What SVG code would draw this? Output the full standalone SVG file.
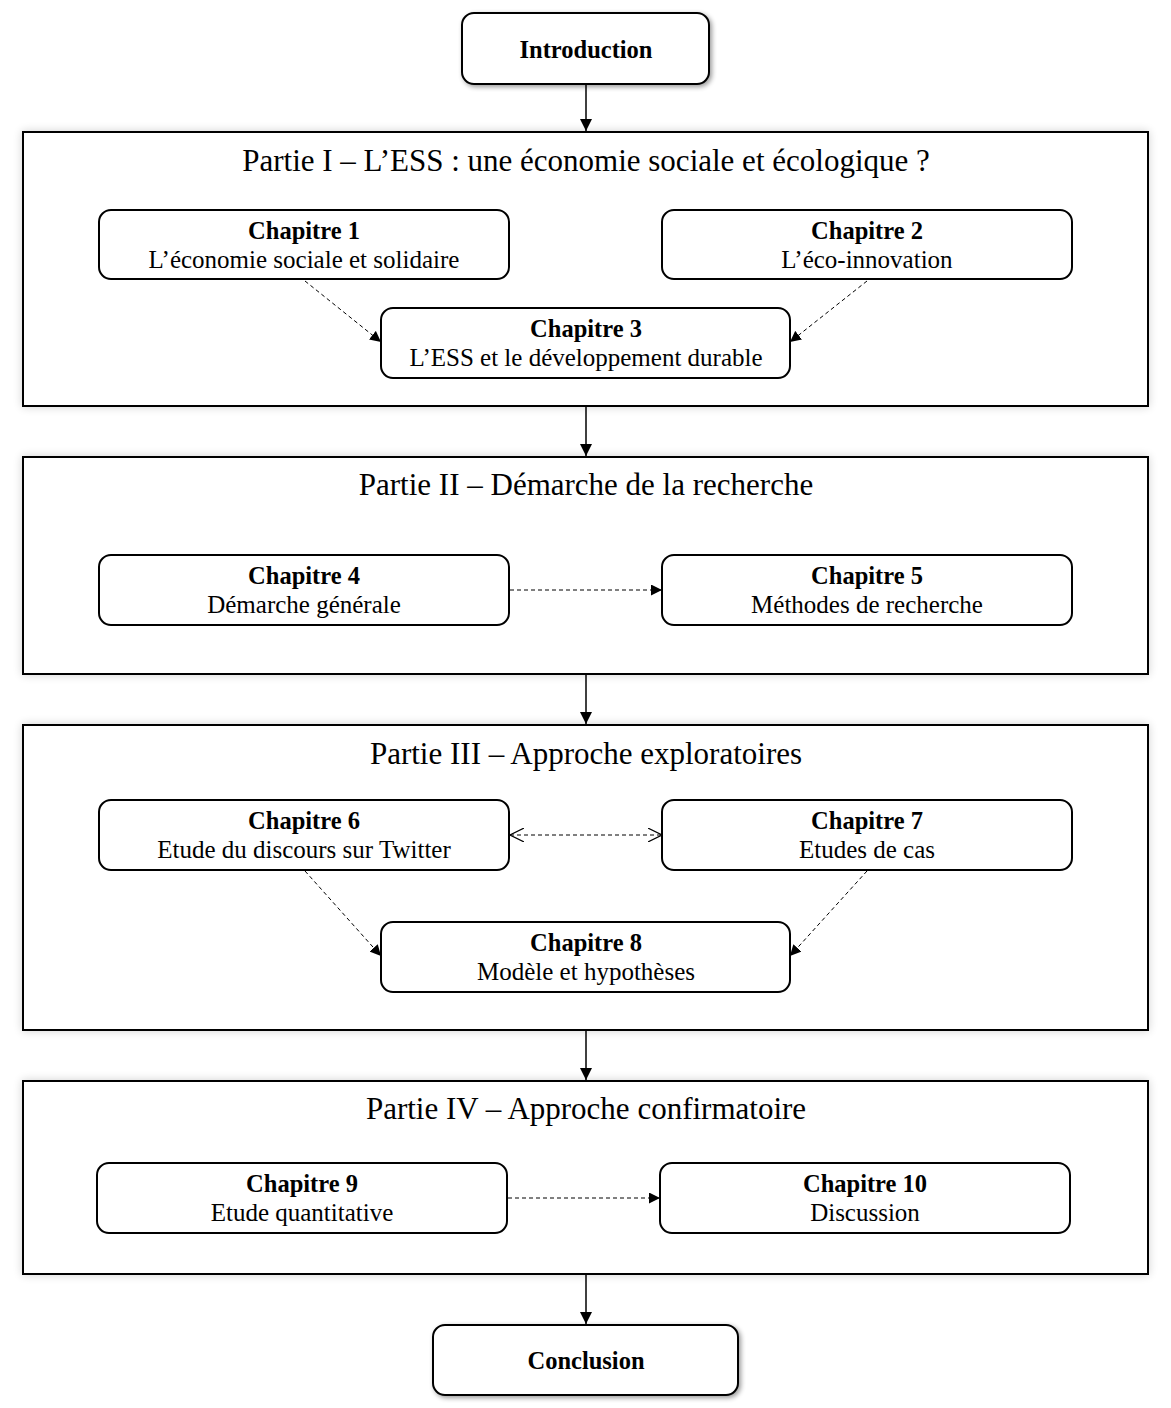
<svg xmlns="http://www.w3.org/2000/svg" width="1171" height="1408" viewBox="0 0 1171 1408">
<defs>
<filter id="glow" x="-5%" y="-10%" width="110%" height="120%">
<feGaussianBlur in="SourceAlpha" stdDeviation="5"/>
<feComponentTransfer><feFuncA type="linear" slope="0.18"/></feComponentTransfer>
<feMerge><feMergeNode/><feMergeNode in="SourceGraphic"/></feMerge>
</filter>
<filter id="sh" x="-10%" y="-20%" width="120%" height="140%">
<feGaussianBlur in="SourceAlpha" stdDeviation="2.5"/>
<feOffset dx="2" dy="2"/>
<feComponentTransfer><feFuncA type="linear" slope="0.4"/></feComponentTransfer>
<feMerge><feMergeNode/><feMergeNode in="SourceGraphic"/></feMerge>
</filter>
<marker id="ah" viewBox="0 0 10 10" refX="10" refY="5" markerWidth="12" markerHeight="12" markerUnits="userSpaceOnUse" orient="auto">
<path d="M0,0 L10,5 L0,10 z" fill="#000"/>
</marker>
<marker id="ahs" viewBox="0 0 10 10" refX="10" refY="5" markerWidth="11" markerHeight="11" markerUnits="userSpaceOnUse" orient="auto">
<path d="M0,0 L10,5 L0,10 z" fill="#000"/>
</marker>
<marker id="open" viewBox="0 0 10 10" refX="10" refY="5" markerWidth="14" markerHeight="14" markerUnits="userSpaceOnUse" orient="auto-start-reverse">
<path d="M0,0 L10,5 L0,10" fill="none" stroke="#000" stroke-width="0.8"/>
</marker>
</defs>
<style>
text{font-family:"Liberation Serif","Times New Roman",serif;fill:#000;text-anchor:middle}
.part{fill:#fff;stroke:#000;stroke-width:2}
.ch{fill:#fff;stroke:#000;stroke-width:2}
.end{fill:#fff;stroke:#000;stroke-width:2}
.t{font-size:31px}
.b{font-size:24.5px;font-weight:bold}
.n{font-size:25px}
.solid{stroke:#000;stroke-width:1.5;fill:none}
.dash{stroke:#000;stroke-width:1;stroke-dasharray:4 3;fill:none}
</style>
<rect width="1171" height="1408" fill="#fff"/>
<g id="part1"><rect class="part" x="23" y="132" width="1125" height="274" filter="url(#glow)"/><text class="t" x="586" y="171">Partie I – L’ESS : une économie sociale et écologique ?</text></g>
<g id="part2"><rect class="part" x="23" y="457" width="1125" height="217" filter="url(#glow)"/><text class="t" x="586" y="495">Partie II – Démarche de la recherche</text></g>
<g id="part3"><rect class="part" x="23" y="725" width="1125" height="305" filter="url(#glow)"/><text class="t" x="586" y="764">Partie III – Approche exploratoires</text></g>
<g id="part4"><rect class="part" x="23" y="1081" width="1125" height="193" filter="url(#glow)"/><text class="t" x="586" y="1119">Partie IV – Approche confirmatoire</text></g>
<g id="intro"><rect class="end" x="462" y="13" width="247" height="71" rx="12" filter="url(#sh)"/><text class="b" x="586" y="58">Introduction</text></g>
<g id="ch1"><rect class="ch" x="99" y="210" width="410" height="69" rx="12"/><text class="b" x="304" y="239">Chapitre 1</text><text class="n" x="304" y="268">L’économie sociale et solidaire</text></g>
<g id="ch2"><rect class="ch" x="662" y="210" width="410" height="69" rx="12"/><text class="b" x="867" y="239">Chapitre 2</text><text class="n" x="867" y="268">L’éco-innovation</text></g>
<g id="ch3"><rect class="ch" x="381" y="308" width="409" height="70" rx="12"/><text class="b" x="586" y="337">Chapitre 3</text><text class="n" x="586" y="366">L’ESS et le développement durable</text></g>
<g id="ch4"><rect class="ch" x="99" y="555" width="410" height="70" rx="12"/><text class="b" x="304" y="584">Chapitre 4</text><text class="n" x="304" y="613">Démarche générale</text></g>
<g id="ch5"><rect class="ch" x="662" y="555" width="410" height="70" rx="12"/><text class="b" x="867" y="584">Chapitre 5</text><text class="n" x="867" y="613">Méthodes de recherche</text></g>
<g id="ch6"><rect class="ch" x="99" y="800" width="410" height="70" rx="12"/><text class="b" x="304" y="829">Chapitre 6</text><text class="n" x="304" y="858">Etude du discours sur Twitter</text></g>
<g id="ch7"><rect class="ch" x="662" y="800" width="410" height="70" rx="12"/><text class="b" x="867" y="829">Chapitre 7</text><text class="n" x="867" y="858">Etudes de cas</text></g>
<g id="ch8"><rect class="ch" x="381" y="922" width="409" height="70" rx="12"/><text class="b" x="586" y="951">Chapitre 8</text><text class="n" x="586" y="980">Modèle et hypothèses</text></g>
<g id="ch9"><rect class="ch" x="97" y="1163" width="410" height="70" rx="12"/><text class="b" x="302" y="1192">Chapitre 9</text><text class="n" x="302" y="1221">Etude quantitative</text></g>
<g id="ch10"><rect class="ch" x="660" y="1163" width="410" height="70" rx="12"/><text class="b" x="865" y="1192">Chapitre 10</text><text class="n" x="865" y="1221">Discussion</text></g>
<g id="conclusion"><rect class="end" x="433" y="1325" width="305" height="70" rx="12" filter="url(#sh)"/><text class="b" x="586" y="1369">Conclusion</text></g>
<g id="connectors">
<line class="solid" x1="586" y1="85" x2="586" y2="131" marker-end="url(#ah)"/>
<line class="solid" x1="586" y1="407" x2="586" y2="456" marker-end="url(#ah)"/>
<line class="solid" x1="586" y1="675" x2="586" y2="724" marker-end="url(#ah)"/>
<line class="solid" x1="586" y1="1031" x2="586" y2="1080" marker-end="url(#ah)"/>
<line class="solid" x1="586" y1="1275" x2="586" y2="1324" marker-end="url(#ah)"/>
<line class="dash" x1="305" y1="281" x2="381" y2="342" marker-end="url(#ahs)"/>
<line class="dash" x1="867" y1="281" x2="790" y2="342" marker-end="url(#ahs)"/>
<line class="dash" x1="510" y1="590" x2="662" y2="590" marker-end="url(#ahs)"/>
<line class="dash" x1="510" y1="835" x2="662" y2="835" marker-start="url(#open)" marker-end="url(#open)"/>
<line class="dash" x1="305" y1="871" x2="381" y2="956" marker-end="url(#ahs)"/>
<line class="dash" x1="867" y1="871" x2="790" y2="956" marker-end="url(#ahs)"/>
<line class="dash" x1="508" y1="1198" x2="660" y2="1198" marker-end="url(#ahs)"/>
</g>
</svg>
